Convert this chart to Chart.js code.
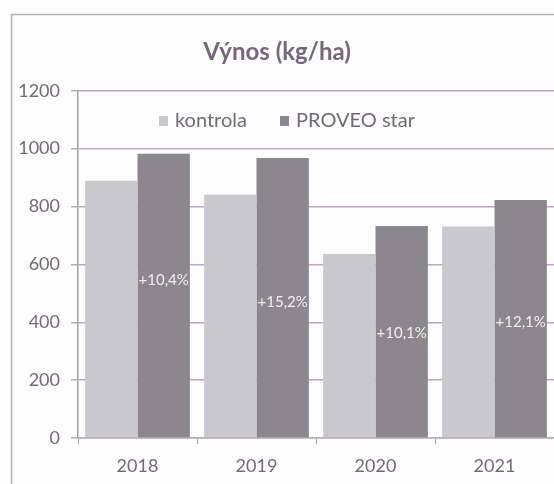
<!DOCTYPE html>
<html>
<head>
<meta charset="utf-8">
<script src="https://cdn.jsdelivr.net/npm/chart.js@4"></script>
<style>
html,body{margin:0;padding:0;background:#fdfdfd;overflow:hidden;}
#wrap{width:554px;height:484px;position:relative;}
</style>
</head>
<body>
<div id="wrap"><canvas id="c" width="554" height="484"></canvas></div>
<script>
const categories = ['2018', '2019', '2020', '2021'];
const kontrola = [889, 841, 636, 731];
const proveo = [982, 968, 733, 823];
const seriesNames = ['kontrola', 'PROVEO star'];
const increaseLabels = ['+10,4%', '+15,2%', '+10,1%', '+12,1%'];
const increaseLabelAt = [547, 470, 363, 401];
const yTicks = [0, 200, 400, 600, 800, 1000, 1200];

const FONT = 'Lato, "Open Sans", sans-serif';
const TXT = '#76687a';
const GRID = '#bfa6bf';

const framePlugin = {
  id: 'frame',
  beforeDraw(chart) {
    const ctx = chart.ctx;
    ctx.save();
    ctx.fillStyle = '#fdfdfd';
    ctx.fillRect(0, 0, chart.width, chart.height);
    ctx.strokeStyle = '#b4b0b4';
    ctx.lineWidth = 1.5;
    ctx.strokeRect(11.5, 14.5, 700, 700);
    ctx.restore();
  }
};

const legendPlugin = {
  id: 'inLegend',
  afterDraw(chart) {
    const ctx = chart.ctx;
    ctx.save();
    ctx.font = '20px ' + FONT;
    ctx.textBaseline = 'middle';
    const y = 121;
    let x = 159;
    chart.data.datasets.forEach((ds, i) => {
      ctx.fillStyle = ds.backgroundColor;
      ctx.fillRect(x, y - 5, 9, 10);
      ctx.fillStyle = TXT;
      ctx.fillText(ds.label, x + 16, y);
      x += 16 + ctx.measureText(ds.label).width + 33;
    });
    ctx.restore();
  }
};

const pctPlugin = {
  id: 'pct',
  afterDatasetsDraw(chart) {
    const ctx = chart.ctx;
    const meta = chart.getDatasetMeta(1);
    const ys = chart.scales.y;
    ctx.save();
    ctx.font = '15px ' + FONT;
    ctx.fillStyle = '#f2eef2';
    ctx.textAlign = 'center';
    ctx.textBaseline = 'middle';
    meta.data.forEach((el, i) => {
      ctx.fillText(increaseLabels[i], el.x, ys.getPixelForValue(increaseLabelAt[i]));
    });
    ctx.restore();
  }
};

new Chart(document.getElementById('c'), {
  type: 'bar',
  data: {
    labels: categories,
    datasets: [
      { label: seriesNames[0], data: kontrola, backgroundColor: '#c9c8cc', borderWidth: 0 },
      { label: seriesNames[1], data: proveo, backgroundColor: '#8b888d', borderWidth: 0 }
    ]
  },
  options: {
    responsive: false,
    animation: false,
    events: [],
    layout: { padding: { left: 0, right: 0, top: 0, bottom: 0 } },
    datasets: { bar: { categoryPercentage: 0.88, barPercentage: 1.0 } },
    plugins: {
      legend: { display: false },
      tooltip: { enabled: false },
      title: {
        display: true,
        text: 'Výnos (kg/ha)',
        color: TXT,
        font: { family: FONT, size: 24, weight: 'bold', lineHeight: 1.2 },
        padding: { top: 38, bottom: 24 }
      }
    },
    scales: {
      x: {
        grid: { display: true, drawOnChartArea: false, color: '#a8a0a8', tickLength: 6, offset: true },
        border: { display: true, color: GRID, width: 1.5 },
        ticks: { color: TXT, font: { family: FONT, size: 18 }, padding: 11 },
        afterFit(s) { s.height = 46; }
      },
      y: {
        min: 0, max: 1200,
        afterBuildTicks(s) { s.ticks = yTicks.map(v => ({ value: v })); },
        grid: { color: GRID, lineWidth: 1.5, tickLength: 7 },
        border: { display: true, color: '#a8a0a8', width: 1.5 },
        ticks: { color: TXT, font: { family: FONT, size: 18 }, padding: 11, callback: v => String(v) },
        afterFit(s) { s.width = 78; }
      }
    }
  },
  plugins: [framePlugin, legendPlugin, pctPlugin]
});
</script>
</body>
</html>
